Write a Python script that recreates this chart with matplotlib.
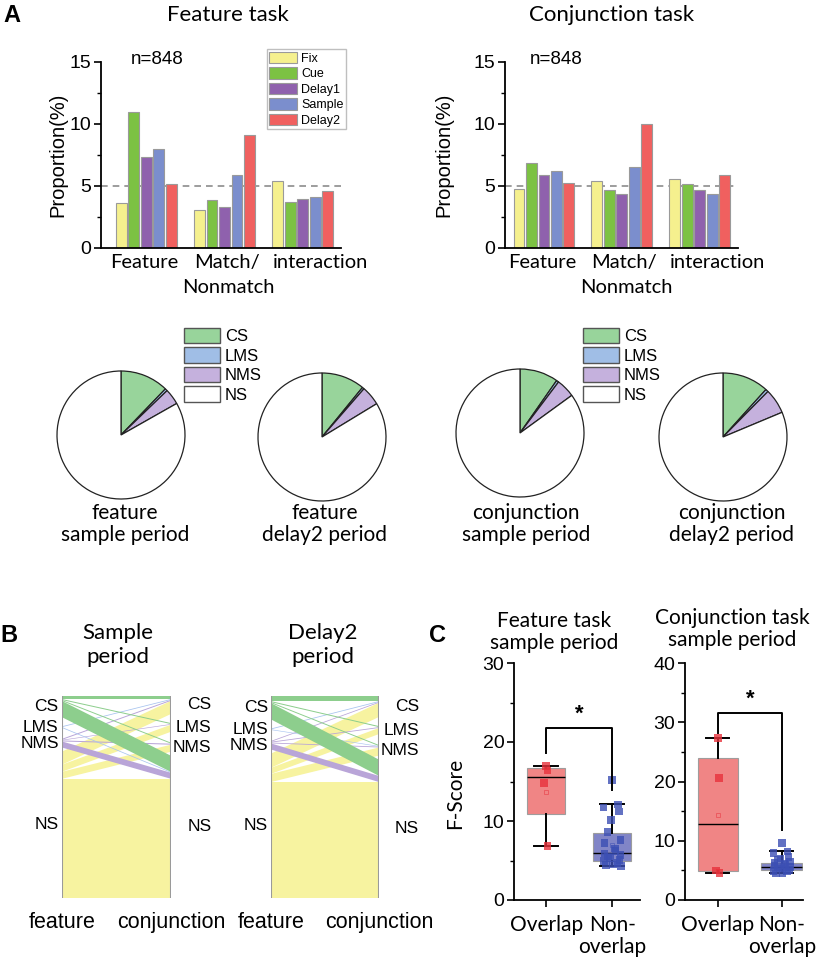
import numpy as np
import matplotlib
matplotlib.use('Agg')
import matplotlib.pyplot as plt
from matplotlib.patches import Polygon, Patch
from matplotlib.ticker import MultipleLocator

W, H = 820, 961
SANS = ['Liberation Sans', 'DejaVu Sans']
HUM = ['Lato', 'DejaVu Sans']
plt.rcParams['font.family'] = SANS

# ---------------- data ----------------
groups = ['Feature', 'Match/\nNonmatch', 'interaction']
periods = ['Fix', 'Cue', 'Delay1', 'Sample', 'Delay2']
period_colors = ['#f5f08e', '#7cc243', '#8f61ad', '#7b8ecd', '#f0605f']

feat_fix = [3.6, 3.03, 5.4]
feat_cue = [10.95, 3.85, 3.75]
feat_delay1 = [7.3, 3.27, 3.96]
feat_sample = [8.0, 5.9, 4.1]
feat_delay2 = [5.17, 9.1, 4.58]

conj_fix = [4.74, 5.41, 5.55]
conj_cue = [6.83, 4.69, 5.2]
conj_delay1 = [5.89, 4.34, 4.69]
conj_sample = [6.21, 6.56, 4.34]
conj_delay2 = [5.28, 9.99, 5.89]
chance_level = 5
n_label = 'n=848'

cell_types = ['CS', 'LMS', 'NMS', 'NS']
pie_colors = ['#98d49b', '#a0bee6', '#c5b1dd', '#ffffff']
pie_feat_sample = [12.2, 0.6, 4.0, 83.2]
pie_feat_delay2 = [10.9, 0.5, 4.9, 83.7]
pie_conj_sample = [9.7, 0.6, 4.7, 85.0]
pie_conj_delay2 = [11.7, 0.7, 6.3, 81.3]
pie_captions = ['feature\nsample period', 'feature\ndelay2 period',
                'conjunction\nsample period', 'conjunction\ndelay2 period']

# alluvial flows: rows = feature-task class, cols = conjunction-task class (CS, LMS, NMS, NS)
flow_sample = [[1.5, 0.5, 0.5, 8.0],
               [0.4, 0.0, 0.0, 0.4],
               [0.5, 0.3, 0.5, 3.0],
               [6.5, 3.5, 3.5, 59.0]]
flow_delay2 = [[2.5, 0.5, 0.5, 8.0],
               [0.4, 0.0, 0.3, 0.0],
               [0.4, 0.4, 0.4, 3.0],
               [7.0, 3.0, 4.0, 57.0]]
flow_colors = ['#8dce8d', '#a8c4ef', '#b9a5d8', '#f7f3a0']

# F-score box statistics
box_groups = ['Overlap', 'Non-\noverlap']
feat_overlap_stats = dict(whislo=6.8, q1=10.85, med=15.55, q3=16.75, whishi=17.0, mean=13.7)
feat_nonoverlap_stats = dict(whislo=4.3, q1=4.98, med=5.9, q3=8.45, whishi=12.1, mean=6.9)
conj_overlap_stats = dict(whislo=4.5, q1=4.9, med=12.85, q3=23.9, whishi=27.3, mean=14.4)
conj_nonoverlap_stats = dict(whislo=4.5, q1=5.0, med=5.65, q3=6.3, whishi=8.2, mean=5.9)

feat_overlap_pts = [17.0, 16.4, 14.8, 6.8]
feat_nonoverlap_pts = [15.2, 12.1, 11.7, 11.2, 10.1, 8.6, 7.6, 7.2, 6.5, 6.2, 5.9, 5.7,
                       5.5, 5.3, 5.1, 4.9, 4.7, 4.5, 4.4, 4.3]
conj_overlap_pts = [27.3, 20.6, 5.0, 4.6]
conj_nonoverlap_pts = [9.6, 8.2, 7.9, 7.3, 7.0, 6.7, 6.5, 6.3, 6.1, 5.9, 5.8, 5.6, 5.5,
                       5.3, 5.1, 4.9, 4.8, 4.6, 4.5]

# ---------------- figure ----------------
fig = plt.figure(figsize=(W / 100, H / 100), dpi=100)


def px_axes(x0, y0, x1, y1):
    return fig.add_axes([x0 / W, 1 - y1 / H, (x1 - x0) / W, (y1 - y0) / H])


def ftext(x, y, s, **kw):
    return fig.text(x / W, 1 - y / H, s, **kw)


bar_step, bar_width = 0.16, 0.14
group_label_dx = [-2, 2, 18]      # horizontal nudges (pixels) of the group names


def bar_panel(x0, x1, series, xlim, ylab_x, legend):
    ax = px_axes(x0, 62, x1, 248)
    xs = np.arange(len(groups))
    for k, (vals, name, col) in enumerate(zip(series, periods, period_colors)):
        ax.bar(xs + (k - 2) * bar_step, vals, width=bar_width, color=col,
               edgecolor='#9a9a9a', linewidth=0.8, label=name, zorder=2)
    ax.axhline(chance_level, color='#8c8c8c', lw=1.2, ls=(0, (4, 3)), zorder=1)
    ax.set_xlim(*xlim)
    ax.set_ylim(0, 15)
    ax.set_yticks([0, 5, 10, 15])
    ax.yaxis.set_minor_locator(MultipleLocator(2.5))
    ax.set_xticks(xs)
    ax.set_xticklabels([''] * len(groups))
    ax.tick_params(axis='x', length=0)
    for i, g in enumerate(groups):
        for li, line in enumerate(g.split('\n')):
            dx = group_label_dx[i] + (2 if li == 1 else 0)
            ax.annotate(line, xy=(i, 0), xycoords=('data', 'axes fraction'),
                        xytext=(dx, -6 - 25 * li), textcoords='offset pixels',
                        ha='center', va='top', fontsize=14.5, family=HUM)
    ax.tick_params(axis='y', direction='out', length=5, width=1.2, labelsize=14, pad=2)
    ax.tick_params(axis='y', which='minor', length=3, width=1.0)
    for s in ['top', 'right']:
        ax.spines[s].set_visible(False)
    for s in ['left', 'bottom']:
        ax.spines[s].set_linewidth(1.3)
    ax.set_ylabel('Proportion(%)', fontsize=14.5)
    ax.yaxis.set_label_coords((ylab_x - x0) / (x1 - x0), 0.5)
    if legend:
        leg = ax.legend(loc='upper right', bbox_to_anchor=(346 / W, 1 - 49 / H),
                        bbox_transform=fig.transFigure, fontsize=9, frameon=True,
                        fancybox=False, edgecolor='#b0b0b0', handlelength=2.25,
                        handleheight=1.05, labelspacing=0.2, handletextpad=0.3,
                        borderpad=0.2, borderaxespad=0)
        leg.get_frame().set_linewidth(1.0)
    return ax


bar_panel(101, 341, [feat_fix, feat_cue, feat_delay1, feat_sample, feat_delay2],
          (-0.58, 2.49), 67, True)
bar_panel(505, 738, [conj_fix, conj_cue, conj_delay1, conj_sample, conj_delay2],
          (-0.5, 2.49), 453, False)
ftext(157, 60, n_label, fontsize=13.5, ha='center', va='center')
ftext(556, 60, n_label, fontsize=13.5, ha='center', va='center')
ftext(228, 15, 'Feature task', fontsize=16, family=HUM, ha='center', va='center')
ftext(612, 15, 'Conjunction task', fontsize=16, family=HUM, ha='center', va='center')
ftext(12, 15, 'A', fontsize=17, fontweight='bold', ha='center', va='center')

# ---------------- pies ----------------
pie_specs = [(121, 435, pie_feat_sample, 125), (322, 437, pie_feat_delay2, 325),
             (520, 433, pie_conj_sample, 526), (723, 437, pie_conj_delay2, 732)]
R = 64
for (cx, cy, vals, capx), cap in zip(pie_specs, pie_captions):
    ax = px_axes(cx - R, cy - R, cx + R, cy + R)
    wedges, _ = ax.pie(vals, colors=pie_colors, startangle=90, counterclock=False,
                       wedgeprops=dict(edgecolor='#222222', linewidth=0.9))
    for w in wedges:
        w.set_clip_on(False)
    ax.set_xlim(-1, 1)
    ax.set_ylim(-1, 1)
    ftext(capx, 524, cap, fontsize=15, family=HUM, ha='center', va='center',
          linespacing=1.15)

for lx in (184, 583):
    handles = [Patch(facecolor=c, edgecolor='#555555', linewidth=1.0) for c in pie_colors]
    fig.legend(handles, cell_types, loc='upper left',
               bbox_to_anchor=(lx / W, 1 - 328 / H), bbox_transform=fig.transFigure,
               fontsize=12, frameon=False, handlelength=2.15, handleheight=1.05,
               labelspacing=0.18, handletextpad=0.3, borderpad=0, borderaxespad=0)

# ---------------- alluvial ----------------
node_gaps = [4.5, 5.4, 2.0]


def alluvial(x0, x1, flows):
    flows = np.asarray(flows, dtype=float)
    n = flows.shape[0]
    ax = px_axes(x0, 696, x1, 898)
    out_tot = flows.sum(axis=1)
    in_tot = flows.sum(axis=0)
    total = flows.sum() + sum(node_gaps)
    left_top = np.concatenate([[0], np.cumsum(out_tot[:-1] + np.array(node_gaps))])
    right_top = np.concatenate([[0], np.cumsum(in_tot[:-1] + np.array(node_gaps))])
    lc, rc = left_top.copy(), right_top.copy()
    polys = []
    for i in range(n):
        for j in range(n):
            v = flows[i, j]
            if v <= 0:
                continue
            polys.append((i, [(0, lc[i]), (1, rc[j]), (1, rc[j] + v), (0, lc[i] + v)]))
            lc[i] += v
            rc[j] += v
    for i, pts in sorted(polys, key=lambda p: -p[0]):
        ax.add_patch(Polygon(pts, closed=True, facecolor=flow_colors[i],
                             edgecolor='none', zorder=10 - i))
    ax.set_xlim(0, 1)
    ax.set_ylim(total, 0)
    for s in ax.spines.values():
        s.set_visible(False)
    ax.set_yticks([])
    ax.axvline(0, color='#9a9a9a', lw=1.5, zorder=20)
    ax.axvline(1, color='#9a9a9a', lw=1.5, zorder=20)
    for k, name in enumerate(cell_types):
        ax.text(-0.03, left_top[k] + out_tot[k] / 2, name, ha='right', va='center',
                fontsize=12.5)
        ax.text(1.37, right_top[k] + in_tot[k] / 2, name, ha='right', va='center',
                fontsize=12.5)
    ax.set_xticks([0, 1])
    ax.set_xticklabels(['feature', 'conjunction'], fontsize=15.5)
    ax.tick_params(axis='x', length=0, pad=10)
    return ax


alluvial(62, 171, flow_sample)
alluvial(271, 379, flow_delay2)
ftext(118, 645, 'Sample\nperiod', fontsize=16, family=HUM, ha='center', va='center',
      linespacing=1.2)
ftext(323, 645, 'Delay2\nperiod', fontsize=16, family=HUM, ha='center', va='center',
      linespacing=1.2)
ftext(9, 636, 'B', fontsize=17, fontweight='bold', ha='center', va='center')

# ---------------- box plots ----------------
red_box, blue_box = '#f07f7f', '#7a7ec4'
red_pt, blue_pt = '#e8323c', '#3c4fb4'


def jitter(n, amp):
    return amp * np.sin(np.arange(n) * 2.399)


def box_panel(x0, x1, xlim, ymax, ystep, stats, pts, bracket, box_w, ylabel):
    ax = px_axes(x0, 663, x1, 900)
    bstats = []
    for s in stats:
        d = dict(s)
        d['fliers'] = []
        bstats.append(d)
    bp = ax.bxp(bstats, positions=[0, 1], widths=box_w, patch_artist=True,
                showfliers=False, showmeans=False, capwidths=0.36,
                boxprops=dict(edgecolor='#9a9a9a', linewidth=0.8),
                whiskerprops=dict(color='black', linewidth=1.4),
                capprops=dict(color='black', linewidth=1.4),
                medianprops=dict(color='black', linewidth=1.0))
    for patch, col in zip(bp['boxes'], [red_box, blue_box]):
        patch.set_facecolor(col)
        patch.set_alpha(0.95)
    for pos, p, col, amp in zip([0, 1], pts, [red_pt, blue_pt], [0.03, 0.13]):
        ax.scatter(pos + jitter(len(p), amp), p, marker='s', s=30, color=col,
                   alpha=0.8, edgecolors='none', zorder=5)
    for pos, s, col in zip([0, 1], stats, [red_pt, blue_pt]):
        ax.plot(pos, s['mean'], marker='s', ms=3, mfc='none', mec=col, mew=0.6,
                alpha=0.6, zorder=6)
    yl, top, yr = bracket
    ax.plot([0, 0, 1, 1], [yl, top, top, yr], color='black', lw=1.4, zorder=7)
    ax.text(0.5, top + ymax * 0.012, '*', ha='center', va='bottom', fontsize=16,
            fontweight='bold')
    ax.set_xlim(*xlim)
    ax.set_ylim(0, ymax)
    ax.set_yticks(np.arange(0, ymax + 1, ystep))
    ax.yaxis.set_minor_locator(MultipleLocator(ystep / 2))
    ax.set_xticks([0, 1])
    ax.set_xticklabels(box_groups, fontsize=15, family=HUM, linespacing=1.1)
    ax.tick_params(axis='x', direction='out', length=5, width=1.2, pad=6)
    ax.tick_params(axis='y', direction='out', length=5, width=1.2, labelsize=14, pad=2)
    ax.tick_params(axis='y', which='minor', length=3, width=1.0)
    for s in ['top', 'right']:
        ax.spines[s].set_visible(False)
    for s in ['left', 'bottom']:
        ax.spines[s].set_linewidth(1.3)
    if ylabel:
        ax.set_ylabel(ylabel, fontsize=15, family=HUM)
        ax.yaxis.set_label_coords((465 - x0) / (x1 - x0), 0.45)
    return ax


box_panel(514, 640, (-0.485, 1.42), 30, 10,
          [feat_overlap_stats, feat_nonoverlap_stats],
          [feat_overlap_pts, feat_nonoverlap_pts], (18.6, 21.8, 13.9), 0.58, 'F-Score')
box_panel(685, 803, (-0.516, 1.33), 40, 10,
          [conj_overlap_stats, conj_nonoverlap_stats],
          [conj_overlap_pts, conj_nonoverlap_pts], (28.2, 31.6, 11.8), 0.64, None)
ftext(554, 632, 'Feature task\nsample period', fontsize=15, family=HUM, ha='center',
      va='center', linespacing=1.15)
ftext(732, 629, 'Conjunction task\nsample period', fontsize=15, family=HUM,
      ha='center', va='center', linespacing=1.15)
ftext(438, 636, 'C', fontsize=17, fontweight='bold', ha='center', va='center')

fig.savefig('out.png', dpi=100)
